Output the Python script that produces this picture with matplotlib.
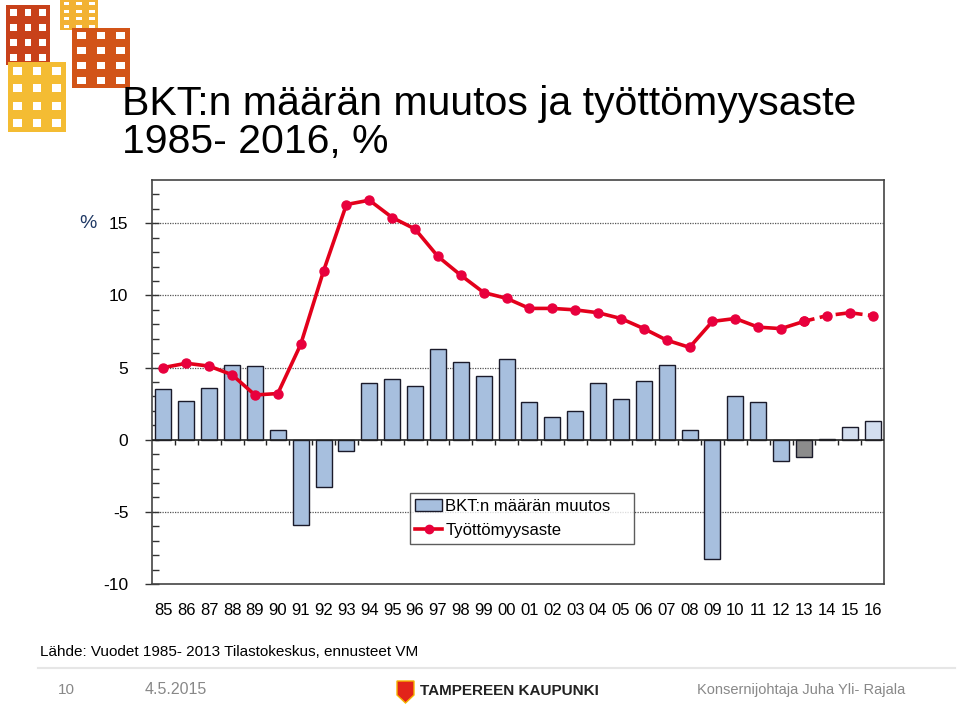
import matplotlib
matplotlib.use("Agg")
import matplotlib.pyplot as plt
import numpy as np
from matplotlib.patches import Rectangle, Polygon
from matplotlib.lines import Line2D

plt.rcParams['font.family'] = ['Liberation Sans', 'DejaVu Sans']

years = ["85", "86", "87", "88", "89", "90", "91", "92", "93", "94", "95", "96", "97", "98", "99",
         "00", "01", "02", "03", "04", "05", "06", "07", "08", "09", "10", "11", "12", "13", "14", "15", "16"]
gdp_change = [3.5, 2.7, 3.6, 5.2, 5.1, 0.7, -5.9, -3.3, -0.8, 3.9, 4.2, 3.7, 6.3, 5.4, 4.4,
              5.6, 2.6, 1.6, 2.0, 3.9, 2.8, 4.1, 5.2, 0.7, -8.3, 3.0, 2.6, -1.5, -1.2, 0.05, 0.9, 1.3]
unemployment = [5.0, 5.3, 5.1, 4.5, 3.1, 3.2, 6.6, 11.7, 16.3, 16.6, 15.4, 14.6, 12.7, 11.4, 10.2,
                9.8, 9.1, 9.1, 9.0, 8.8, 8.4, 7.7, 6.9, 6.4, 8.2, 8.4, 7.8, 7.7, 8.2, 8.6, 8.8, 8.6]
last_actual = "13"
y_ticks = [-10, -5, 0, 5, 10, 15]

fig = plt.figure(figsize=(9.6, 7.08), dpi=100)
ax = fig.add_axes([152/960, 1-584/708, 732/960, 404/708])

x = np.arange(len(years))
i13 = years.index(last_actual)
colors = []
for i in range(len(years)):
    if i < i13:
        colors.append('#A7BFDE')
    elif i == i13:
        colors.append('#8C8C8C')
    else:
        colors.append('#D3DEEF')

ax.bar(x, gdp_change, width=0.7, color=colors, edgecolor='#1a1a2a', linewidth=1.0, zorder=3)

red = '#E3001B'
mk = '#E8003D'
ax.plot(x[:i13+1], unemployment[:i13+1], color=red, lw=2.6, marker='o', ms=6.5,
        markerfacecolor=mk, markeredgecolor=mk, zorder=4)
ax.plot(x[i13:], unemployment[i13:], color=red, lw=2.6, ls=(0, (3, 1.5)), marker='o', ms=6.5,
        markerfacecolor=mk, markeredgecolor=mk, zorder=4)

ax.set_xlim(-0.5, len(years) - 0.5)
ax.set_ylim(-10, 18)

for v in [5, 10, 15, -5]:
    ax.axhline(v, color='#555555', lw=0.9, ls=(0, (1, 1)), zorder=1)
ax.axhline(0, color='#222222', lw=1.2, zorder=5)
ax.vlines(x[:-1] + 0.5, -0.35, 0, color='#222222', lw=1.0, zorder=5)

ax.set_yticks(y_ticks)
ax.set_yticklabels([str(v) for v in y_ticks], fontsize=12.5)
ax.set_yticks(np.arange(-10, 18, 1), minor=True)
ax.tick_params(axis='y', which='major', direction='inout', length=10, width=1.0, color='#333333', pad=12)
ax.tick_params(axis='y', which='minor', direction='in', length=5, width=1.0, color='#333333')

ax.set_xticks(x)
ax.set_xticklabels(years, fontsize=12)
ax.tick_params(axis='x', length=0, pad=14)

for s in ax.spines.values():
    s.set_color('#444444')
    s.set_linewidth(1.2)

handles = [Rectangle((0, 0), 1, 1, facecolor='#A7BFDE', edgecolor='#1a1a2a', lw=1.0),
           Line2D([0], [0], color=red, lw=2.6, marker='o', ms=6, markerfacecolor=mk, markeredgecolor=mk)]
leg = ax.legend(handles, ['BKT:n määrän muutos', 'Työttömyysaste'], loc='upper left',
                bbox_to_anchor=(0.352, 0.225, 0.306, 0.0), mode='expand', fontsize=12,
                frameon=True, fancybox=False, edgecolor='#333333', borderpad=0.35, borderaxespad=0,
                handlelength=1.6, handletextpad=0.2, labelspacing=0.55)
leg.get_frame().set_linewidth(1.0)

fig.text(88/960, 1-224/708, '%', fontsize=14, color='#1F3864', ha='center', va='center')

fig.text(122/960, 1-104/708, 'BKT:n määrän muutos ja työttömyysaste', fontsize=29.5, ha='left', va='center')
fig.text(122/960, 1-142/708, '1985- 2016, %', fontsize=29.5, ha='left', va='center')

fig.text(40/960, 1-652/708, 'Lähde: Vuodet 1985- 2013 Tilastokeskus, ennusteet VM', fontsize=11, ha='left', va='center')
fig.add_artist(Line2D([0.04, 0.995], [1-668/708, 1-668/708], color='#e6e6e6', lw=1.5))

fig.text(66/960, 1-690/708, '10', fontsize=11, color='#888888', ha='center', va='center')
fig.text(145/960, 1-690/708, '4.5.2015', fontsize=11.5, color='#888888', ha='left', va='center')
fig.text(420/960, 1-691/708, 'TAMPEREEN KAUPUNKI', fontsize=11, fontweight='bold', color='#222222',
         ha='left', va='center')
fig.text(697/960, 1-690/708, 'Konsernijohtaja Juha Yli- Rajala', fontsize=10.5, color='#888888', ha='left', va='center')

# shield logo
shield = Polygon([[397/960, 1-681/708], [414/960, 1-681/708], [414/960, 1-695/708],
                  [405.5/960, 1-703/708], [397/960, 1-695/708]], closed=True,
                 facecolor='#E2231A', edgecolor='#F5B400', lw=1.0, transform=fig.transFigure)
fig.add_artist(shield)

# decorative top-left pattern
def flag(x0, y0, w, h, color):
    cols, rows = 3, 4
    cw, rh = w / cols, h / rows
    fig.add_artist(Rectangle((x0/960, 1-(y0+h)/708), w/960, h/708, facecolor=color,
                             edgecolor='none', transform=fig.transFigure))
    for r in range(rows):
        for c in range(cols):
            fig.add_artist(Rectangle(((x0 + c*cw + cw*0.28)/960, 1-(y0 + r*rh + rh*0.72)/708),
                                     cw*0.45/960, rh*0.45/708, facecolor='white', edgecolor='none',
                                     transform=fig.transFigure))

flag(6, 5, 44, 60, '#C8411A')
flag(60, 0, 38, 30, '#F2B233')
flag(72, 28, 58, 60, '#D25418')
flag(8, 62, 58, 70, '#F4BC33')

fig.savefig('out.png', dpi=100, facecolor='white')
